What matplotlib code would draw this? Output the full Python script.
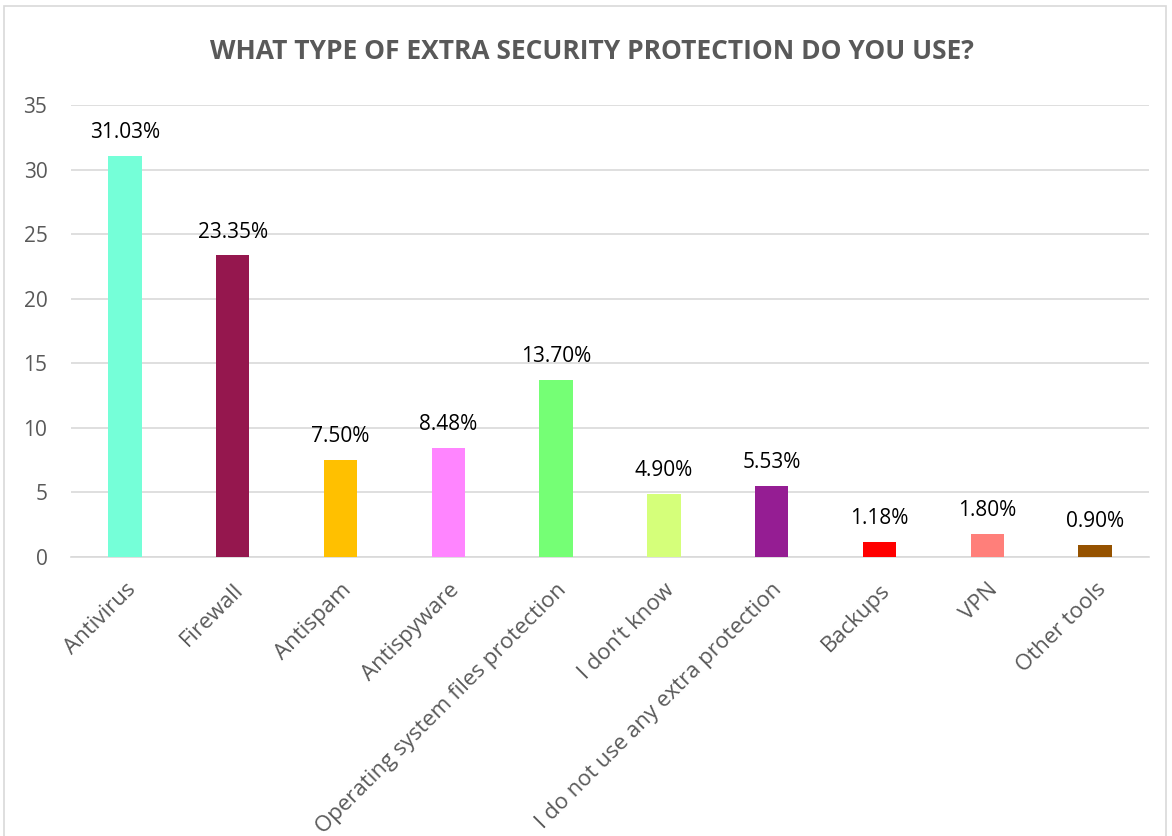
import matplotlib.pyplot as plt
from matplotlib.patches import Rectangle

categorias = ["Antivirus", "Firewall", "Antispam", "Antispyware",
              "Operating system files protection", "I don\u2019t know",
              "I do not use any extra protection", "Backups", "VPN", "Other tools"]
valores = [31.03, 23.35, 7.50, 8.48, 13.70, 4.90, 5.53, 1.18, 1.80, 0.90]
cores = ["#75FFD8", "#95174E", "#FFC000", "#FF85FF", "#75FF75",
         "#D5FF7A", "#951D93", "#FF0000", "#FF7F7A", "#955200"]
ticks_y = [0, 5, 10, 15, 20, 25, 30, 35]

plt.rcParams['font.family'] = ['Open Sans', 'DejaVu Sans']
cinza = "#595959"

fig = plt.figure(figsize=(11.72, 8.36), dpi=100)
ax = fig.add_axes([0.0606, 0.3337, 0.9198, 0.5407])

x = range(len(categorias))
ax.bar(x, valores, width=0.31, color=cores, zorder=3)
for xi, v in zip(x, valores):
    ax.text(xi, v + 1.0, f"{v:.2f}%", ha='center', va='bottom', fontsize=15, color='black')

ax.set_xlim(-0.5, len(categorias) - 0.5)
ax.set_ylim(0, 35)
ax.set_yticks(ticks_y)
ax.set_xticks(list(x))
ax.set_xticklabels(categorias, rotation=45, ha='right', rotation_mode='anchor',
                   fontsize=16, color=cinza)
ax.tick_params(axis='y', labelsize=15, labelcolor=cinza, length=0, pad=17)
ax.tick_params(axis='x', length=0, pad=16)
ax.grid(axis='y', color='#D9D9D9', linewidth=1.2, zorder=0)
for lado in ['top', 'right', 'left']:
    ax.spines[lado].set_visible(False)
ax.spines['bottom'].set_color('#D9D9D9')
ax.spines['bottom'].set_linewidth(1.2)

fig.text(0.505, 0.938, "WHAT TYPE OF EXTRA SECURITY PROTECTION DO YOU USE?",
         ha='center', va='center', fontsize=19, fontweight='bold', color=cinza)

# moldura do grafico
fig.patches.append(Rectangle((4 / 1172, -0.05), 1162 / 1172, 1.05 - 6 / 836,
                             transform=fig.transFigure, fill=False,
                             edgecolor='#D9D9D9', linewidth=1.2))

fig.savefig("out.png", dpi=100)
